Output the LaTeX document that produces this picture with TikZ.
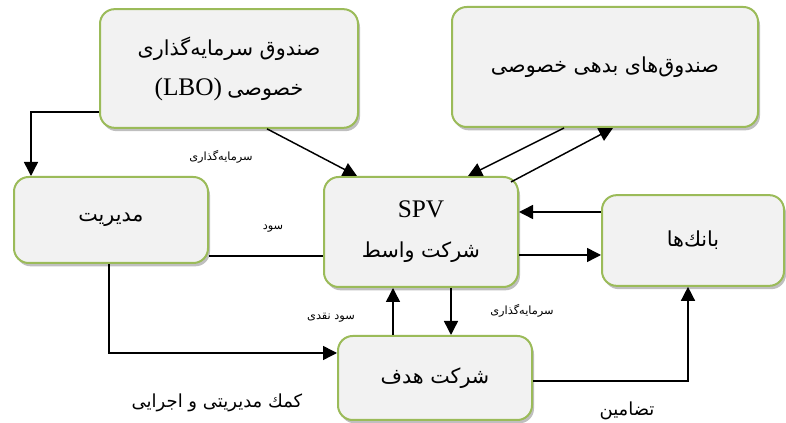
\documentclass[tikz,border=0pt]{standalone}
\usepackage{fontspec}
\setmainfont{Liberation Serif}
\newfontfamily\fa[Script=Arabic]{DejaVu Sans}
\TeXXeTstate=1
\usetikzlibrary{arrows.meta,shadows}
\definecolor{boxgreen}{HTML}{9BBB59}
\definecolor{boxfill}{HTML}{F2F2F2}

\begin{document}
\begin{tikzpicture}[
  x=0.75pt, y=-0.75pt,
  box/.style={draw=boxgreen, line width=1.5pt, fill=boxfill,
    rounded corners=11pt, align=center, inner sep=0pt,
    font=\fontsize{15.5}{30}\selectfont,
    drop shadow={shadow xshift=1.5pt, shadow yshift=-2.5pt,
      fill=black, opacity=0.25}},
  arr/.style={-{Triangle[length=10.5pt,width=10.5pt]}, line width=1.1pt},
  lbl/.style={font=\fa\fontsize{8.5}{10}\selectfont, inner sep=1pt},
  biglbl/.style={font=\fa\fontsize{13.5}{15}\selectfont, inner sep=1pt},
]
\useasboundingbox (0,0) rectangle (786,423);

\node[box, minimum width=193.5pt, minimum height=89pt] (lbo) at (229,68.5)
  {{\fa\beginR صندوق سرمایه^^^^200cگذاری\endR}\\
   \beginR{\fa خصوصی} \beginL{\fontsize{19}{30}\selectfont(LBO)}\endL\endR};
\node[box, minimum width=229.5pt, minimum height=90pt] (debt) at (605,67)
  {\fa\beginR صندوق^^^^200cهای بدهی خصوصی\endR};
\node[box, minimum width=145.5pt, minimum height=64.5pt] (mgmt) at (111,220)
  {\fa مدیریت};
\node[box, minimum width=145.5pt, minimum height=82.5pt] (spv) at (421,232)
  {{\fontsize{19}{28}\selectfont SPV}\\{\fa\beginR شركت واسط\endR}};
\node[box, minimum width=145.5pt, minimum height=63pt] (target) at (435,378)
  {\fa\beginR شركت هدف\endR};
\node[box, minimum width=136.5pt, minimum height=68pt] (banks) at (693,240.5)
  {\fa بانك^^^^200cها};

\draw[arr] (lbo.west |- 0,112) -| (mgmt.north -| 31,0);
\draw[arr] (lbo.south -| 267,0) -- (spv.north -| 357,0);
\draw[arr] (debt.south -| 564,0) -- (spv.north -| 468,0);
\draw[arr] ([shift={(-8,6)}]spv.north east) -- (debt.south -| 613,0);
\draw[arr] (banks.west |- 0,212) -- (spv.east |- 0,212);
\draw[arr] (spv.east |- 0,255) -- (banks.west |- 0,255);
\draw[line width=1.1pt] (mgmt.east |- 0,256) -- (spv.west |- 0,256);
\draw[arr] (mgmt.south -| 109,0) |- (target.west |- 0,353);
\draw[arr] (target.north -| 393,0) -- (spv.south -| 393,0);
\draw[arr] (spv.south -| 451,0) -- (target.north -| 451,0);
\draw[arr] (target.east |- 0,381) -| (banks.south -| 688,0);

\node[lbl] (l1) at (221,157) {\beginR سرمایه^^^^200cگذاری\endR};
\node[lbl] (l2) at (273,229) {سود};
\node[lbl] (l3) at (331,318) {\beginR سود نقدی\endR};
\node[lbl] (l4) at (522,311) {\beginR سرمایه^^^^200cگذاری\endR};
\node[biglbl] (l5) at (217,403) {\beginR كمك مدیریتی و اجرایی\endR};
\node[biglbl] (l6) at (627,411) {تضامین};
\end{tikzpicture}
\end{document}
